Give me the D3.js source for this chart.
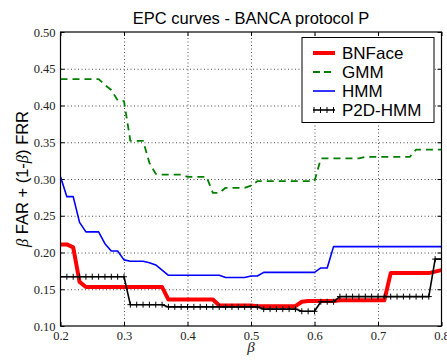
<!DOCTYPE html>
<html>
<head>
<meta charset="utf-8">
<script src="https://cdn.jsdelivr.net/npm/d3@7"></script>
<style>
  body { margin: 0; background: #fff; }
  .tick text { font-family: "Liberation Serif", serif; font-size: 12.5px; fill: #222; }
  .grid line { stroke: #000; stroke-width: 0.7px; stroke-dasharray: 1,2.5; }
  .grid path { display: none; }
</style>
</head>
<body>
<div id="chart"></div>
<script>
var beta = [0.20,0.21,0.22,0.23,0.24,0.25,0.26,0.27,0.28,0.29,
            0.30,0.31,0.32,0.33,0.34,0.35,0.36,0.37,0.38,0.39,
            0.40,0.41,0.42,0.43,0.44,0.45,0.46,0.47,0.48,0.49,
            0.50,0.51,0.52,0.53,0.54,0.55,0.56,0.57,0.58,0.59,
            0.60,0.61,0.62,0.63,0.64,0.65,0.66,0.67,0.68,0.69,
            0.70,0.71,0.72,0.73,0.74,0.75,0.76,0.77,0.78,0.79,0.80];

var bnface = [0.211,0.211,0.207,0.160,0.153,0.153,0.153,0.153,0.153,0.153,
              0.153,0.153,0.153,0.153,0.153,0.153,0.153,0.136,0.136,0.136,
              0.136,0.136,0.136,0.136,0.136,0.128,0.128,0.128,0.128,0.128,
              0.128,0.127,0.127,0.127,0.127,0.127,0.127,0.127,0.133,0.134,
              0.134,0.134,0.134,0.134,0.135,0.135,0.135,0.135,0.135,0.135,
              0.135,0.135,0.172,0.172,0.172,0.172,0.172,0.172,0.172,0.174,0.176];

var gmm = [0.436,0.436,0.436,0.436,0.436,0.436,0.436,0.428,0.421,0.407,
           0.406,0.352,0.352,0.352,0.322,0.307,0.306,0.306,0.306,0.306,
           0.303,0.303,0.303,0.303,0.281,0.281,0.288,0.288,0.288,0.288,
           0.291,0.297,0.297,0.297,0.297,0.297,0.297,0.297,0.297,0.297,
           0.297,0.328,0.328,0.328,0.328,0.328,0.328,0.328,0.330,0.330,
           0.330,0.330,0.330,0.330,0.330,0.330,0.340,0.340,0.340,0.340,0.340];

var hmm = [0.303,0.276,0.276,0.241,0.228,0.228,0.228,0.212,0.202,0.202,
           0.190,0.188,0.188,0.188,0.186,0.183,0.176,0.169,0.169,0.169,
           0.169,0.169,0.169,0.169,0.169,0.169,0.166,0.166,0.166,0.166,
           0.168,0.168,0.173,0.173,0.173,0.173,0.173,0.173,0.173,0.173,
           0.173,0.179,0.179,0.208,0.208,0.208,0.208,0.208,0.208,0.208,
           0.208,0.208,0.208,0.208,0.208,0.208,0.208,0.208,0.208,0.208,0.208];

var p2dhmm = [0.167,0.167,0.167,0.167,0.167,0.167,0.167,0.167,0.167,0.167,
              0.167,0.129,0.129,0.129,0.129,0.129,0.129,0.126,0.126,0.126,
              0.126,0.126,0.126,0.126,0.126,0.126,0.126,0.126,0.126,0.126,
              0.126,0.126,0.123,0.123,0.123,0.123,0.123,0.123,0.120,0.120,
              0.120,0.133,0.133,0.133,0.140,0.140,0.140,0.140,0.140,0.140,
              0.140,0.140,0.140,0.140,0.140,0.140,0.140,0.140,0.140,0.191,0.191];

var xTicks = [0.2, 0.3, 0.4, 0.5, 0.6, 0.7, 0.8];
var yTicks = [0.10, 0.15, 0.20, 0.25, 0.30, 0.35, 0.40, 0.45, 0.50];

var series = [
    {name: "BNFace", values: bnface, color: "#ff0000", width: 4, dash: null, marker: false},
    {name: "GMM", values: gmm, color: "#008000", width: 1.8, dash: "7,5", marker: false},
    {name: "HMM", values: hmm, color: "#0000ff", width: 1.6, dash: null, marker: false},
    {name: "P2D-HMM", values: p2dhmm, color: "#000000", width: 1.6, dash: null, marker: true}
];

var W = 447, H = 361;
var margin = {left: 60.5, right: 441.5, top: 32, bottom: 326};

var x = d3.scaleLinear().domain([0.2, 0.8]).range([margin.left, margin.right]);
var y = d3.scaleLinear().domain([0.1, 0.5]).range([margin.bottom, margin.top]);
var plotW = margin.right - margin.left, plotH = margin.bottom - margin.top;

var svg = d3.select("#chart")
        .append("svg")
        .attr("width", W)
        .attr("height", H)
        .style("background", "#fff");

svg.append("clipPath").attr("id", "plotclip")
        .append("rect")
        .attr("x", margin.left).attr("y", margin.top)
        .attr("width", plotW).attr("height", plotH);

// gridlines
svg.append("g")
        .attr("class", "grid")
        .attr("transform", "translate(0," + margin.bottom + ")")
        .call(d3.axisBottom(x).tickValues(xTicks.slice(1, -1)).tickSize(-plotH).tickFormat(""));
svg.append("g")
        .attr("class", "grid")
        .attr("transform", "translate(" + margin.left + ",0)")
        .call(d3.axisLeft(y).tickValues(yTicks.slice(1, -1)).tickSize(-plotW).tickFormat(""));

// axes with inward ticks
svg.append("g")
        .attr("class", "axis-x")
        .attr("transform", "translate(0," + margin.bottom + ")")
        .call(d3.axisBottom(x).tickValues(xTicks).tickSize(-4).tickPadding(5).tickFormat(d3.format(".1f")));
svg.append("g")
        .attr("class", "axis-y")
        .attr("transform", "translate(" + margin.left + ",0)")
        .call(d3.axisLeft(y).tickValues(yTicks).tickSize(-4).tickPadding(5).tickFormat(d3.format(".2f")));
svg.append("g")
        .attr("transform", "translate(0," + margin.top + ")")
        .call(d3.axisTop(x).tickValues(xTicks).tickSize(-4).tickFormat(""));
svg.append("g")
        .attr("transform", "translate(" + margin.right + ",0)")
        .call(d3.axisRight(y).tickValues(yTicks).tickSize(-4).tickFormat(""));
svg.selectAll(".domain").remove();
svg.selectAll(".tick line").attr("stroke", "#000");

var line = d3.line()
        .x(function (d, i) { return x(beta[i]); })
        .y(function (d) { return y(d); });

var lines = svg.append("g").attr("clip-path", "url(#plotclip)");

series.forEach(function (s) {
    lines.append("path")
            .attr("d", line(s.values))
            .attr("fill", "none")
            .attr("stroke", s.color)
            .attr("stroke-width", s.width)
            .attr("stroke-dasharray", s.dash)
            .attr("stroke-linejoin", "round");
    if (s.marker) {
        lines.selectAll(".mk")
                .data(s.values)
                .enter()
                .append("path")
                .attr("d", function (d, i) {
                    var cx = x(beta[i]), cy = y(d);
                    return "M" + (cx - 3) + "," + cy + "H" + (cx + 3) + "M" + cx + "," + (cy - 3) + "V" + (cy + 3);
                })
                .attr("stroke", s.color)
                .attr("stroke-width", 1);
    }
});

// frame
svg.append("rect")
        .attr("x", margin.left).attr("y", margin.top)
        .attr("width", plotW).attr("height", plotH)
        .attr("fill", "none")
        .attr("stroke", "#000")
        .attr("stroke-width", 1.2);

// title and labels
svg.append("text")
        .attr("x", (margin.left + margin.right) / 2)
        .attr("y", 24)
        .attr("text-anchor", "middle")
        .style("font-family", "Liberation Sans, Arial, sans-serif")
        .style("font-size", "16.5px")
        .text("EPC curves - BANCA protocol P");

svg.append("text")
        .attr("x", (margin.left + margin.right) / 2)
        .attr("y", 352)
        .attr("text-anchor", "middle")
        .style("font-family", "Liberation Serif, serif")
        .style("font-style", "italic")
        .style("font-size", "15px")
        .style("fill", "#222")
        .text("β");

var ylab = svg.append("text")
        .attr("transform", "translate(28," + ((margin.top + margin.bottom) / 2) + ") rotate(-90)")
        .attr("text-anchor", "middle")
        .style("font-family", "Liberation Sans, Arial, sans-serif")
        .style("font-size", "16.5px");
ylab.append("tspan").style("font-family", "Liberation Serif, serif").style("font-style", "italic").text("β");
ylab.append("tspan").text(" FAR + (1-");
ylab.append("tspan").style("font-family", "Liberation Serif, serif").style("font-style", "italic").text("β");
ylab.append("tspan").text(") FRR");

// legend
var lg = svg.append("g");
lg.append("rect")
        .attr("x", 302).attr("y", 37.5)
        .attr("width", 132).attr("height", 85)
        .attr("fill", "#fff")
        .attr("stroke", "#000")
        .attr("stroke-width", 1);

series.forEach(function (s, i) {
    var ly = 53 + i * 19;
    lg.append("line")
            .attr("x1", 313).attr("x2", 335)
            .attr("y1", ly).attr("y2", ly)
            .attr("stroke", s.color)
            .attr("stroke-width", s.width)
            .attr("stroke-dasharray", s.dash ? "7,4" : null);
    if (s.marker) {
        [314, 320.5, 327, 333.5].forEach(function (mx) {
            lg.append("path")
                    .attr("d", "M" + mx + "," + (ly - 3) + "V" + (ly + 3))
                    .attr("stroke", s.color)
                    .attr("stroke-width", 1);
        });
    }
    lg.append("text")
            .attr("x", 342)
            .attr("y", ly + 6)
            .style("font-family", "Liberation Sans, Arial, sans-serif")
            .style("font-size", "17px")
            .text(s.name);
});
</script>
</body>
</html>
